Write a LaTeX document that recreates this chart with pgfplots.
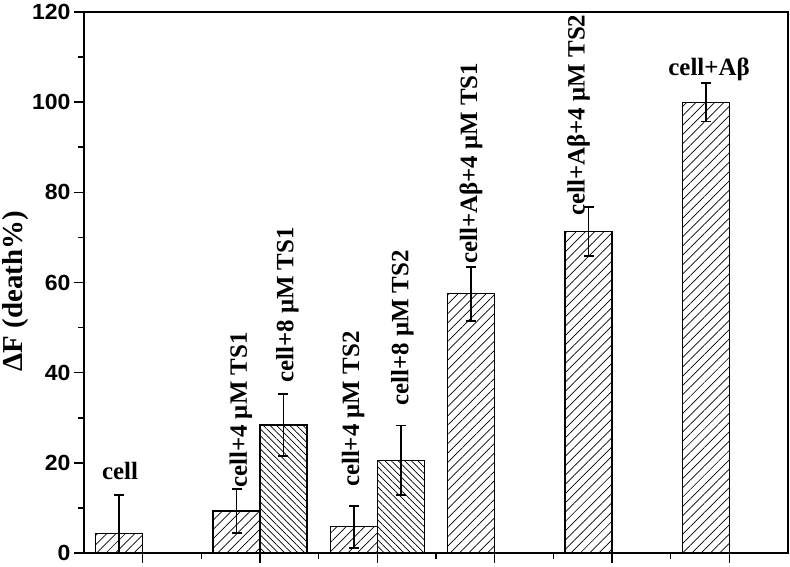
\documentclass[border=0pt]{standalone}
\usepackage{fontspec}
\setmainfont{Liberation Serif}
\newfontfamily\ticksans{Liberation Sans}[FakeStretch=1.05]
\usepackage{pgfplots}
\pgfplotsset{compat=1.18}
\usetikzlibrary{patterns.meta}

\newcommand\lbl{\fontsize{25}{30}\selectfont\bfseries}

\begin{document}
\begin{tikzpicture}
\begin{axis}[
  name=ax,
  scale only axis,
  width=704bp, height=541bp,
  xmin=0.5, xmax=6.5, ymin=0, ymax=120,
  ybar=0pt, bar width=0.4,
  xtick={1,...,6}, xticklabels={},
  minor xtick={1.5,2.5,3.5,4.5,5.5},
  ytick={0,20,...,120}, minor ytick={10,30,...,110},
  tick align=outside,
  xtick pos=bottom, ytick pos=left,
  major tick length=10bp, minor tick length=6bp,
  axis line style={line width=1.5bp},
  tick style={black,line width=1.5bp},
  yticklabel style={font=\ticksans\bfseries\fontsize{22}{26}\selectfont,inner ysep=1pt},
  /pgf/number format/assume math mode=true,
  ylabel={ΔF (death\%)},
  ylabel style={font=\fontsize{29}{33}\selectfont\bfseries,
    at={(axis description cs:-0.0966,0.484)}, anchor=center},
  error bars/error bar style={line width=1.8bp,black},
  error bars/error mark options={rotate=90,mark size=5bp,line width=1.8bp,black},
]
% series 1: /// hatching
\addplot[draw=black,line width=1.2bp,
  pattern={Lines[angle=45,distance=6.6pt,line width=0.7pt]},
  error bars/.cd,y dir=both,y explicit]
  coordinates {(1,4.3) +- (0,8.6) (2,9.3) +- (0,4.9) (3,5.8) +- (0,4.7)
               (4,57.5) +- (0,6.0) (5,71.3) +- (0,5.4) (6,100.0) +- (0,4.3)};
% series 2: \\\ hatching
\addplot[draw=black,line width=1.2bp,
  pattern={Lines[angle=-45,distance=4.7pt,line width=0.7pt]},
  error bars/.cd,y dir=both,y explicit]
  coordinates {(2,28.4) +- (0,6.9) (3,20.6) +- (0,7.7)};

\node[anchor=base,inner sep=0pt,font=\lbl] at (axis cs:0.807,16.4) {cell};
\node[anchor=base,inner sep=0pt,font=\lbl] at (axis cs:5.827,106.0) {cell+Aβ};
\node[rotate=90,anchor=west,inner sep=0pt,font=\lbl] at (axis cs:1.838,14.4) {cell+4 μM TS1};
\node[rotate=90,anchor=west,inner sep=0pt,font=\lbl] at (axis cs:2.234,37.7) {cell+8 μM TS1};
\node[rotate=90,anchor=west,inner sep=0pt,font=\lbl] at (axis cs:2.793,14.6) {cell+4 μM TS2};
\node[rotate=90,anchor=west,inner sep=0pt,font=\lbl] at (axis cs:3.214,32.6) {cell+8 μM TS2};
\node[rotate=90,anchor=west,inner sep=0pt,font=\lbl] at (axis cs:3.798,64.1) {cell+Aβ+4 μM TS1};
\node[rotate=90,anchor=west,inner sep=0pt,font=\lbl] at (axis cs:4.715,74.8) {cell+Aβ+4 μM TS2};
\end{axis}
\pgfresetboundingbox
\path[use as bounding box] ([xshift=-84bp,yshift=-13bp]ax.south west)
  rectangle ([xshift=2bp,yshift=12bp]ax.north east);
\end{tikzpicture}
\end{document}
